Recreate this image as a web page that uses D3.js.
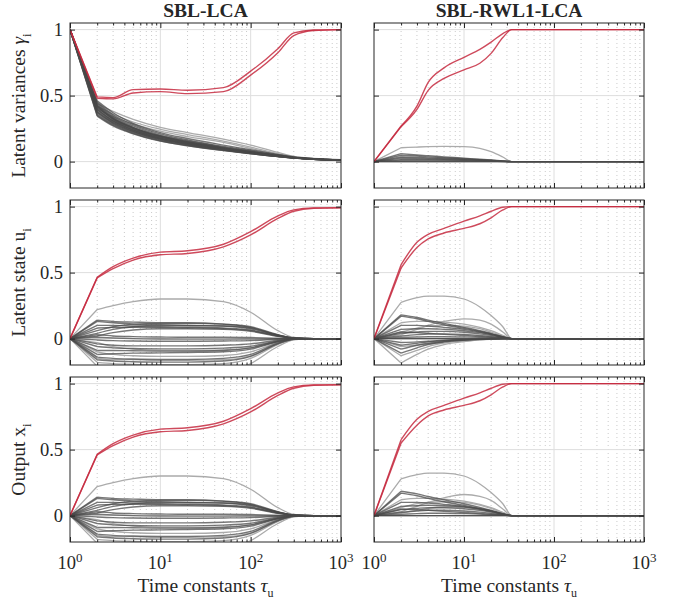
<!DOCTYPE html>
<meta charset='utf-8'>
<html>
<head>
<script src="https://d3js.org/d3.v7.min.js" charset="utf-8"></script>
<style>
  body { margin: 0; background: #fff; }
  svg text { font-family: 'Liberation Serif', 'Times New Roman', Times, serif; fill: #262626; }
</style>
</head>
<body>
<div id="chart-container"></div>
<script>
// sample times (x) for each column
const tLeft = [1, 2, 3, 5, 10, 20, 50, 100, 200, 300, 500, 1000];
const tRight = [1, 2, 3, 4, 6, 10, 15, 20, 27, 34, 100, 1000];

const colTitles = ['SBL-LCA', 'SBL-RWL1-LCA'];
const yTickValues = [0, 0.5, 1];
const xMajorTicks = [1, 10, 100, 1000];

// ---- SBL-LCA, latent variances gamma ----
const gammaRed = [
  [1, 0.49, 0.485, 0.545, 0.55, 0.54, 0.56, 0.685, 0.855, 0.975, 0.997, 1.0],
  [1, 0.48, 0.475, 0.52, 0.53, 0.515, 0.53, 0.655, 0.825, 0.955, 0.993, 1.0]
];
const gammaLight = [
  [1, 0.44, 0.38, 0.32, 0.26, 0.22, 0.17, 0.125, 0.07, 0.04, 0.025, 0.015],
  [1, 0.42, 0.36, 0.3, 0.245, 0.205, 0.155, 0.11, 0.06, 0.037, 0.023, 0.014],
  [1, 0.4, 0.34, 0.285, 0.23, 0.19, 0.145, 0.1, 0.055, 0.035, 0.022, 0.014]
];
const gammaDark = [
  [1, 0.46, 0.37, 0.29, 0.22, 0.175, 0.125, 0.09, 0.055, 0.035, 0.022, 0.013],
  [1, 0.45, 0.355, 0.28, 0.21, 0.165, 0.115, 0.083, 0.05, 0.033, 0.021, 0.013],
  [1, 0.44, 0.345, 0.27, 0.2, 0.158, 0.11, 0.078, 0.048, 0.032, 0.02, 0.013],
  [1, 0.43, 0.335, 0.26, 0.195, 0.152, 0.105, 0.075, 0.046, 0.031, 0.02, 0.012],
  [1, 0.425, 0.33, 0.258, 0.192, 0.15, 0.104, 0.074, 0.046, 0.031, 0.02, 0.012],
  [1, 0.42, 0.325, 0.255, 0.19, 0.148, 0.102, 0.072, 0.045, 0.03, 0.019, 0.012],
  [1, 0.415, 0.322, 0.252, 0.188, 0.146, 0.101, 0.071, 0.045, 0.03, 0.019, 0.012],
  [1, 0.41, 0.32, 0.25, 0.185, 0.145, 0.1, 0.07, 0.044, 0.03, 0.019, 0.012],
  [1, 0.4, 0.31, 0.243, 0.18, 0.14, 0.097, 0.068, 0.043, 0.029, 0.019, 0.012],
  [1, 0.395, 0.308, 0.24, 0.178, 0.138, 0.096, 0.067, 0.042, 0.029, 0.018, 0.012],
  [1, 0.39, 0.305, 0.238, 0.176, 0.137, 0.095, 0.066, 0.042, 0.029, 0.018, 0.012],
  [1, 0.38, 0.298, 0.232, 0.172, 0.134, 0.093, 0.065, 0.041, 0.028, 0.018, 0.012],
  [1, 0.375, 0.294, 0.229, 0.17, 0.132, 0.092, 0.064, 0.041, 0.028, 0.018, 0.012],
  [1, 0.37, 0.29, 0.226, 0.168, 0.13, 0.09, 0.063, 0.04, 0.028, 0.018, 0.012],
  [1, 0.36, 0.283, 0.22, 0.163, 0.126, 0.087, 0.061, 0.039, 0.027, 0.018, 0.012],
  [1, 0.35, 0.276, 0.214, 0.158, 0.122, 0.085, 0.06, 0.038, 0.027, 0.017, 0.012],
  [1, 0.345, 0.27, 0.21, 0.155, 0.12, 0.083, 0.059, 0.038, 0.026, 0.017, 0.012]
];

// ---- SBL-LCA, latent state u (output x looks the same) ----
const stateRed = [
  [0, 0.465, 0.545, 0.61, 0.655, 0.665, 0.715, 0.81, 0.93, 0.975, 0.99, 0.992],
  [0, 0.46, 0.53, 0.595, 0.635, 0.645, 0.695, 0.785, 0.91, 0.965, 0.987, 0.99]
];
const stateLight = [
  [0, 0.22, 0.25, 0.28, 0.30, 0.30, 0.28, 0.2, 0.06, 0.01, 0, 0],
  [0, -0.21, -0.25, -0.28, -0.3, -0.3, -0.27, -0.19, -0.06, -0.01, 0, 0],
  [0, -0.03, -0.06, -0.08, -0.09, -0.09, -0.085, -0.07, -0.02, -0.003, 0, 0],
  [0, -0.15, -0.16, -0.16, -0.165, -0.165, -0.16, -0.13, -0.04, -0.005, 0, 0],
  [0, -0.1, -0.12, -0.13, -0.135, -0.135, -0.128, -0.1, -0.03, -0.004, 0, 0],
  [0, -0.18, -0.19, -0.195, -0.198, -0.198, -0.19, -0.15, -0.045, -0.006, 0, 0]
];
const stateDark = [
  [0, 0.14, 0.13, 0.125, 0.12, 0.12, 0.11, 0.09, 0.03, 0.005, 0, 0],
  [0, 0.13, 0.12, 0.11, 0.105, 0.1, 0.095, 0.08, 0.025, 0.004, 0, 0],
  [0, 0.06, 0.09, 0.11, 0.115, 0.115, 0.11, 0.085, 0.028, 0.004, 0, 0],
  [0, 0.04, 0.07, 0.09, 0.1, 0.1, 0.095, 0.075, 0.025, 0.003, 0, 0],
  [0, 0.1, 0.1, 0.095, 0.09, 0.088, 0.08, 0.065, 0.02, 0.003, 0, 0],
  [0, 0.08, 0.085, 0.085, 0.085, 0.082, 0.075, 0.06, 0.02, 0.003, 0, 0],
  [0, 0.02, 0.045, 0.065, 0.075, 0.075, 0.07, 0.055, 0.018, 0.002, 0, 0],
  [0, 0.03, 0.02, 0.015, 0.012, 0.01, 0.01, 0.008, 0.003, 0, 0, 0],
  [0, -0.01, -0.015, -0.018, -0.02, -0.02, -0.018, -0.015, -0.005, 0, 0, 0],
  [0, 0.01, 0.005, 0, -0.003, -0.004, -0.004, -0.003, -0.001, 0, 0, 0],
  [0, -0.04, -0.05, -0.055, -0.055, -0.055, -0.05, -0.04, -0.012, -0.002, 0, 0],
  [0, -0.06, -0.07, -0.075, -0.078, -0.078, -0.072, -0.058, -0.018, -0.003, 0, 0],
  [0, -0.09, -0.09, -0.092, -0.095, -0.095, -0.09, -0.07, -0.022, -0.003, 0, 0],
  [0, -0.12, -0.115, -0.11, -0.108, -0.105, -0.1, -0.08, -0.025, -0.004, 0, 0],
  [0, -0.14, -0.15, -0.155, -0.158, -0.158, -0.15, -0.12, -0.035, -0.005, 0, 0],
  [0, -0.16, -0.17, -0.175, -0.178, -0.178, -0.17, -0.135, -0.04, -0.005, 0, 0]
];

// ---- SBL-RWL1-LCA, latent variances gamma ----
const rwGammaRed = [
  [0, 0.27, 0.42, 0.6, 0.71, 0.79, 0.85, 0.905, 0.97, 1.0, 1.0, 1.0],
  [0, 0.265, 0.395, 0.54, 0.63, 0.695, 0.745, 0.82, 0.94, 1.0, 1.0, 1.0]
];
const rwGammaLight = [
  [0, 0.105, 0.11, 0.113, 0.115, 0.113, 0.1, 0.075, 0.035, 0, 0, 0]
];
const rwGammaDark = [
  [0, 0.06, 0.05, 0.044, 0.036, 0.026, 0.018, 0.012, 0.005, 0, 0, 0],
  [0, 0.048, 0.042, 0.036, 0.03, 0.022, 0.015, 0.01, 0.004, 0, 0, 0],
  [0, 0.035, 0.032, 0.028, 0.024, 0.018, 0.012, 0.008, 0.003, 0, 0, 0],
  [0, 0.025, 0.024, 0.022, 0.018, 0.014, 0.01, 0.006, 0.002, 0, 0, 0],
  [0, 0.015, 0.016, 0.015, 0.013, 0.01, 0.007, 0.004, 0.002, 0, 0, 0],
  [0, 0.008, 0.009, 0.009, 0.008, 0.006, 0.004, 0.003, 0.001, 0, 0, 0],
  [0, 0, 0, 0, 0, 0, 0, 0, 0, 0, 0, 0],
  [0, 0, 0, 0, 0, 0, 0, 0, 0, 0, 0, 0]
];

// ---- SBL-RWL1-LCA, latent state u ----
const rwStateRed = [
  [0, 0.56, 0.73, 0.79, 0.835, 0.89, 0.93, 0.965, 0.995, 1.0, 1.0, 1.0],
  [0, 0.535, 0.69, 0.755, 0.8, 0.835, 0.87, 0.915, 0.975, 1.0, 1.0, 1.0]
];
const rwStateLight = [
  [0, 0.275, 0.31, 0.322, 0.322, 0.3, 0.24, 0.175, 0.09, 0, 0, 0],
  [0, 0.03, 0.07, 0.1, 0.13, 0.15, 0.14, 0.11, 0.05, 0, 0, 0],
  [0, 0.12, 0.13, 0.13, 0.125, 0.11, 0.085, 0.06, 0.025, 0, 0, 0],
  [0, -0.185, -0.12, -0.08, -0.045, -0.022, -0.01, -0.005, -0.001, 0, 0, 0],
  [0, -0.06, -0.05, -0.04, -0.028, -0.016, -0.008, -0.004, -0.001, 0, 0, 0],
  [0, 0.05, 0.08, 0.095, 0.1, 0.095, 0.075, 0.05, 0.02, 0, 0, 0],
  [0, -0.13, -0.09, -0.06, -0.035, -0.018, -0.009, -0.004, -0.001, 0, 0, 0]
];
const rwStateDark = [
  [0, 0.18, 0.16, 0.14, 0.115, 0.085, 0.06, 0.04, 0.015, 0, 0, 0],
  [0, 0.17, 0.15, 0.13, 0.105, 0.078, 0.055, 0.036, 0.013, 0, 0, 0],
  [0, 0.1, 0.1, 0.095, 0.085, 0.07, 0.05, 0.033, 0.012, 0, 0, 0],
  [0, 0.07, 0.075, 0.075, 0.07, 0.06, 0.045, 0.03, 0.01, 0, 0, 0],
  [0, 0.04, 0.05, 0.055, 0.055, 0.048, 0.036, 0.024, 0.009, 0, 0, 0],
  [0, 0.02, 0.03, 0.035, 0.036, 0.032, 0.024, 0.016, 0.006, 0, 0, 0],
  [0, 0.05, 0.045, 0.04, 0.032, 0.024, 0.016, 0.01, 0.004, 0, 0, 0],
  [0, -0.11, -0.07, -0.045, -0.025, -0.012, -0.006, -0.003, -0.001, 0, 0, 0],
  [0, -0.08, -0.05, -0.035, -0.02, -0.01, -0.005, -0.002, 0, 0, 0, 0],
  [0, -0.05, -0.035, -0.025, -0.015, -0.008, -0.004, -0.002, 0, 0, 0, 0],
  [0, -0.03, -0.025, -0.02, -0.013, -0.007, -0.004, -0.002, 0, 0, 0, 0],
  [0, 0.008, 0.012, 0.014, 0.014, 0.012, 0.009, 0.006, 0.002, 0, 0, 0],
  [0, 0, 0, 0, 0, 0, 0, 0, 0, 0, 0, 0],
  [0, 0, 0, 0, 0, 0, 0, 0, 0, 0, 0, 0]
];

// ---- SBL-RWL1-LCA, output x ----
const rwOutputRed = [
  [0, 0.575, 0.73, 0.79, 0.835, 0.89, 0.93, 0.965, 0.995, 1.0, 1.0, 1.0],
  [0, 0.55, 0.685, 0.755, 0.8, 0.835, 0.87, 0.915, 0.975, 1.0, 1.0, 1.0]
];
const rwOutputLight = [
  [0, 0.278, 0.31, 0.322, 0.322, 0.3, 0.24, 0.175, 0.09, 0, 0, 0],
  [0, 0.03, 0.07, 0.1, 0.135, 0.16, 0.145, 0.115, 0.05, 0, 0, 0],
  [0, 0.12, 0.13, 0.13, 0.125, 0.11, 0.085, 0.06, 0.025, 0, 0, 0],
  [0, 0.06, 0.09, 0.1, 0.105, 0.1, 0.08, 0.055, 0.022, 0, 0, 0],
  [0, 0.02, 0.04, 0.055, 0.065, 0.065, 0.052, 0.035, 0.014, 0, 0, 0]
];
const rwOutputDark = [
  [0, 0.185, 0.165, 0.145, 0.12, 0.09, 0.062, 0.04, 0.015, 0, 0, 0],
  [0, 0.17, 0.15, 0.13, 0.105, 0.078, 0.055, 0.036, 0.013, 0, 0, 0],
  [0, 0.1, 0.1, 0.095, 0.085, 0.07, 0.05, 0.033, 0.012, 0, 0, 0],
  [0, 0.07, 0.075, 0.078, 0.075, 0.065, 0.048, 0.032, 0.012, 0, 0, 0],
  [0, 0.045, 0.055, 0.06, 0.06, 0.052, 0.04, 0.026, 0.01, 0, 0, 0],
  [0, 0.05, 0.045, 0.04, 0.032, 0.024, 0.016, 0.01, 0.004, 0, 0, 0],
  [0, 0.025, 0.035, 0.04, 0.04, 0.035, 0.026, 0.017, 0.006, 0, 0, 0],
  [0, 0.01, 0.015, 0.018, 0.018, 0.015, 0.011, 0.007, 0.003, 0, 0, 0],
  [0, 0, 0, 0, 0, 0, 0, 0, 0, 0, 0, 0],
  [0, 0, 0, 0, 0, 0, 0, 0, 0, 0, 0, 0]
];

// panel grid
const panels = [
  {col: 0, row: 0, t: tLeft, light: gammaLight, dark: gammaDark, red: gammaRed},
  {col: 0, row: 1, t: tLeft, light: stateLight, dark: stateDark, red: stateRed},
  {col: 0, row: 2, t: tLeft, light: stateLight, dark: stateDark, red: stateRed},
  {col: 1, row: 0, t: tRight, light: rwGammaLight, dark: rwGammaDark, red: rwGammaRed},
  {col: 1, row: 1, t: tRight, light: rwStateLight, dark: rwStateDark, red: rwStateRed},
  {col: 1, row: 2, t: tRight, light: rwOutputLight, dark: rwOutputDark, red: rwOutputRed}
];

// layout
const svgWidth = 673, svgHeight = 602;
const colX = [[70, 341], [374, 644]];
const rowY = [[23, 188], [200, 365], [377, 542]];
const axisColor = '#262626';

const svg = d3.select('#chart-container').append('svg')
  .attr('width', svgWidth).attr('height', svgHeight)
  .attr('font-family', "'Liberation Serif', 'Times New Roman', Times, serif");

panels.forEach((p, k) => {
  const [x0, x1] = colX[p.col];
  const [y0, y1] = rowY[p.row];
  const x = d3.scaleLog().domain([1, 1000]).range([x0, x1]);
  const y = d3.scaleLinear().domain([-0.2, 1.05]).range([y1, y0]);

  const g = svg.append('g');

  // grid: minor dotted verticals, major solid lines
  const minor = x.ticks().filter(v => !xMajorTicks.includes(v));
  g.selectAll('.minor').data(minor).enter().append('line')
    .attr('x1', d => x(d)).attr('x2', d => x(d))
    .attr('y1', y0).attr('y2', y1)
    .attr('stroke', '#bdbdbd').attr('stroke-width', 0.8)
    .attr('stroke-dasharray', '1,3');
  g.selectAll('.majx').data([10, 100]).enter().append('line')
    .attr('x1', d => x(d)).attr('x2', d => x(d))
    .attr('y1', y0).attr('y2', y1)
    .attr('stroke', '#dedede').attr('stroke-width', 1);
  g.selectAll('.majy').data(yTickValues).enter().append('line')
    .attr('x1', x0).attr('x2', x1)
    .attr('y1', d => y(d)).attr('y2', d => y(d))
    .attr('stroke', '#dedede').attr('stroke-width', 1);

  // clip the curves to the plot box
  svg.append('clipPath').attr('id', 'clip' + k)
    .append('rect').attr('x', x0).attr('y', y0)
    .attr('width', x1 - x0).attr('height', y1 - y0);

  // straight first step (t=1 -> 2), smooth afterwards
  const pts = vals => vals.map((v, i) => [x(p.t[i]), y(v)]);
  const straight = d3.line();
  const smooth = d3.line().curve(d3.curveMonotoneX);
  const pathOf = vals => {
    const q = pts(vals);
    return straight(q.slice(0, 2)) + smooth(q.slice(1));
  };

  const lines = g.append('g').attr('clip-path', 'url(#clip' + k + ')');
  lines.selectAll('.light').data(p.light).enter().append('path')
    .attr('d', pathOf).attr('fill', 'none')
    .attr('stroke', '#ababab').attr('stroke-width', 1.3);
  lines.selectAll('.dark').data(p.dark).enter().append('path')
    .attr('d', pathOf).attr('fill', 'none')
    .attr('stroke', '#4a4a4a').attr('stroke-opacity', 0.75).attr('stroke-width', 1.4);
  lines.selectAll('.red').data(p.red).enter().append('path')
    .attr('d', pathOf).attr('fill', 'none')
    .attr('stroke', '#c62a40').attr('stroke-opacity', 0.85).attr('stroke-width', 1.4);

  // ticks pointing inwards, on all four sides
  const noLabel = () => '';
  g.append('g').attr('transform', 'translate(0,' + y1 + ')')
    .call(d3.axisBottom(x).tickValues(xMajorTicks).tickSize(-5).tickFormat(noLabel));
  g.append('g').attr('transform', 'translate(0,' + y1 + ')')
    .call(d3.axisBottom(x).tickValues(minor).tickSize(-2.5).tickFormat(noLabel));
  g.append('g').attr('transform', 'translate(0,' + y0 + ')')
    .call(d3.axisTop(x).tickValues(xMajorTicks).tickSize(-5).tickFormat(noLabel));
  g.append('g').attr('transform', 'translate(0,' + y0 + ')')
    .call(d3.axisTop(x).tickValues(minor).tickSize(-2.5).tickFormat(noLabel));
  g.append('g').attr('transform', 'translate(' + x0 + ',0)')
    .call(d3.axisLeft(y).tickValues(yTickValues).tickSize(-5).tickFormat(noLabel));
  g.append('g').attr('transform', 'translate(' + x1 + ',0)')
    .call(d3.axisRight(y).tickValues(yTickValues).tickSize(-5).tickFormat(noLabel));
  g.selectAll('.domain').remove();
  g.selectAll('.tick line').attr('stroke', axisColor);

  g.append('rect').attr('x', x0).attr('y', y0)
    .attr('width', x1 - x0).attr('height', y1 - y0)
    .attr('fill', 'none').attr('stroke', axisColor).attr('stroke-width', 1);

  // y tick labels on the left column
  if (p.col === 0) {
    g.selectAll('.ylab').data(yTickValues).enter().append('text')
      .attr('x', x0 - 7).attr('y', d => y(d)).attr('dy', '0.35em')
      .attr('text-anchor', 'end').attr('font-size', 18.5)
      .text(d => d);
  }

  // x tick labels on the bottom row
  if (p.row === 2) {
    const lab = g.selectAll('.xlab').data(xMajorTicks).enter().append('text')
      .attr('x', d => x(d)).attr('y', y1 + 27)
      .attr('text-anchor', 'middle').attr('font-size', 18.5);
    lab.append('tspan').text('10');
    lab.append('tspan').attr('dy', -7).attr('font-size', 13)
      .text(d => Math.round(Math.log10(d)));

    const xl = g.append('text').attr('x', (x0 + x1) / 2).attr('y', 592)
      .attr('text-anchor', 'middle').attr('font-size', 19.5);
    xl.append('tspan').text('Time constants ');
    xl.append('tspan').attr('font-style', 'italic').text('τ');
    xl.append('tspan').attr('dy', 5).attr('font-size', 12).text('u');
  }

  if (p.row === 0) {
    g.append('text').attr('x', (x0 + x1) / 2).attr('y', 17)
      .attr('text-anchor', 'middle').attr('font-size', 19.5).attr('font-weight', 'bold')
      .text(colTitles[p.col]);
  }
});

// row labels (rotated)
const rowLabels = [
  {main: 'Latent variances ', sym: 'γ'},
  {main: 'Latent state u', sym: ''},
  {main: 'Output x', sym: ''}
];
rowLabels.forEach((r, i) => {
  const cy = (rowY[i][0] + rowY[i][1]) / 2;
  const t = svg.append('text')
    .attr('transform', 'translate(25,' + cy + ') rotate(-90)')
    .attr('text-anchor', 'middle').attr('font-size', 19.5);
  t.append('tspan').text(r.main);
  if (r.sym) t.append('tspan').attr('font-style', 'italic').text(r.sym);
  t.append('tspan').attr('dy', 6).attr('font-size', 13).text('i');
});
</script>
</body>
</html>
